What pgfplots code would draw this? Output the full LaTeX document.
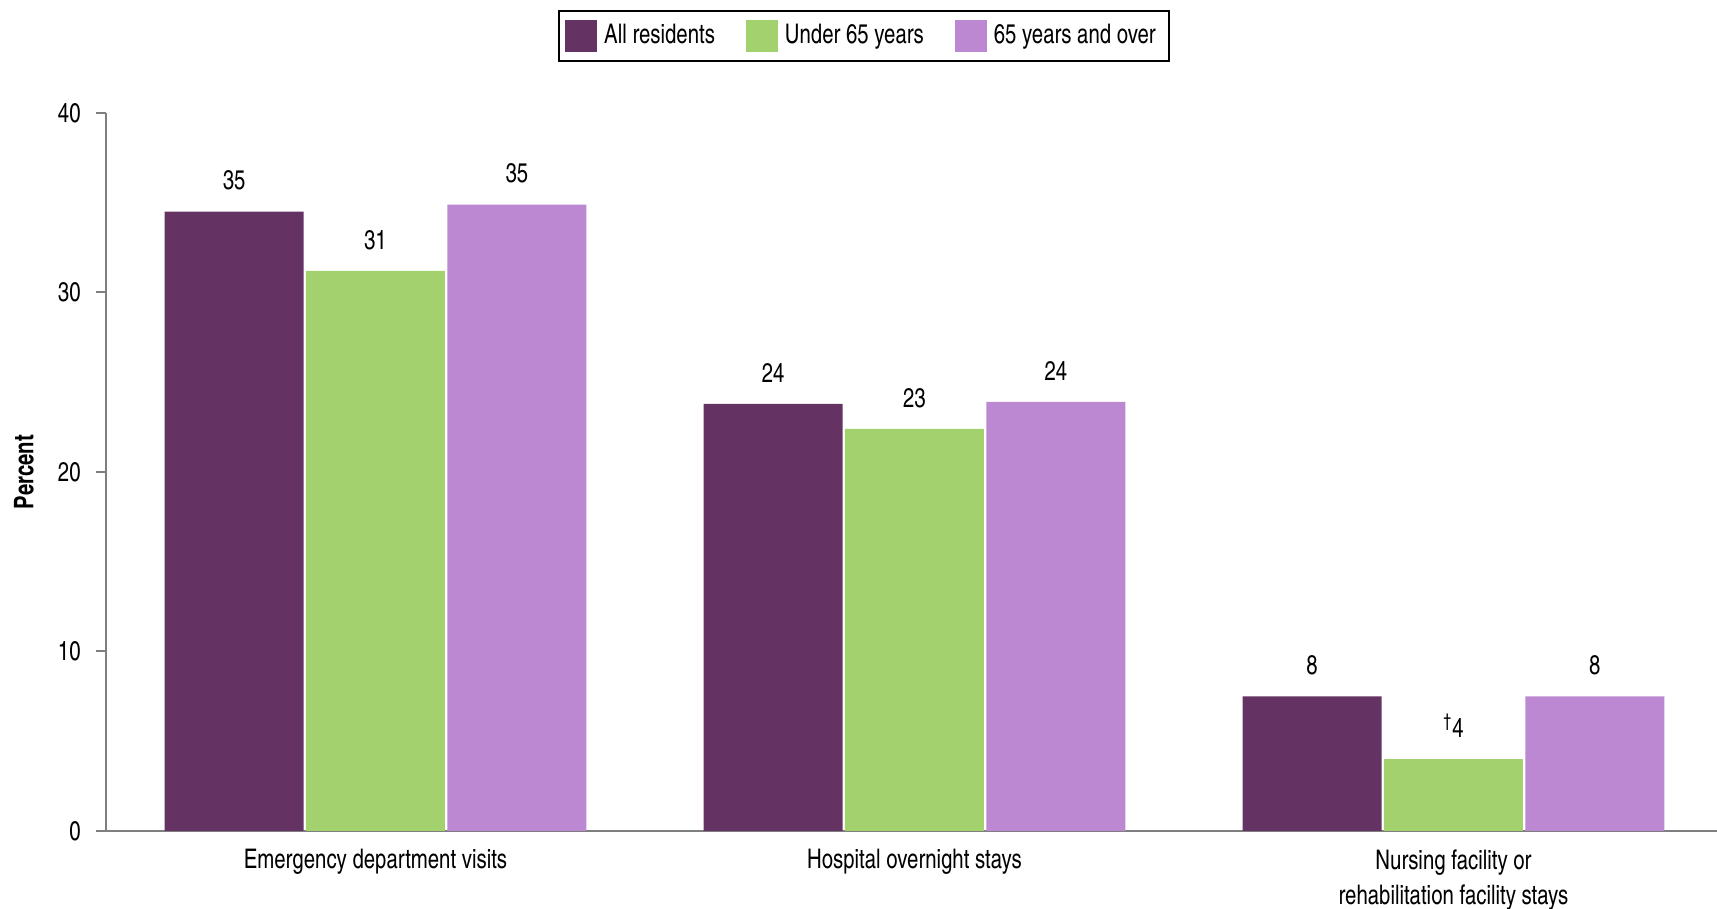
\documentclass[border=0pt]{standalone}
\usepackage{pgfplots}
\pgfplotsset{compat=1.18}
\usepackage{fontspec}
\setmainfont{texgyreheroscn-regular.otf}[BoldFont=texgyreheroscn-bold.otf, FakeStretch=0.92]
\definecolor{cAll}{HTML}{643263}
\definecolor{cUnder}{HTML}{A3D16E}
\definecolor{cOver}{HTML}{BC88D2}
\definecolor{axgray}{HTML}{7F7F7F}
\begin{document}
\begin{tikzpicture}
\fontsize{13.5}{17.5}\selectfont
\useasboundingbox (-53pt,-39pt) rectangle (805.5pt,415.5pt);
\begin{axis}[
  at={(0,0)}, anchor=south west,
  scale only axis, width=805.5pt, height=359pt,
  xmin=-0.5, xmax=2.489, ymin=0, ymax=40,
  axis x line=bottom, axis y line=left,
  axis line style={axgray, line width=1pt, -},
  xtick={0,1,2},
  xticklabels={Emergency department visits, Hospital overnight stays, {Nursing facility or\\rehabilitation facility stays}},
  xticklabel style={align=center, yshift=0.5pt, font=\fontsize{13.5}{17.5}\selectfont},
  x tick style={draw=none},
  ytick={0,10,20,30,40},
  y tick style={axgray, line width=1pt},
  tick align=outside, major tick length=5pt,
  yticklabel style={font=\fontsize{13.5}{16}\selectfont, xshift=-3pt},
  /pgf/number format/assume math mode=true,
  ylabel={\textbf{Percent}},
  ylabel style={at={(axis description cs:-0.0509,0.5)}, anchor=center, font=\fontsize{13.5}{16}\selectfont},
  ybar=1.2pt, bar width=69.5pt,
  nodes near coords,
  point meta=explicit symbolic,
  every node near coord/.append style={font=\fontsize{13.5}{16}\selectfont, text=black, yshift=6pt},
  legend columns=-1,
  legend style={at={(rel axis cs:0.4705,1.107)}, anchor=center, draw=black, line width=0.8pt,
    font=\fontsize{13.5}{16}\selectfont, inner xsep=3pt, inner ysep=4.5pt,
    nodes={inner xsep=3.5pt},
    /tikz/every even column/.append style={column sep=12pt}},
  legend image code/.code={\fill[#1] (0pt,-8pt) rectangle (16pt,8pt);},
]
\addplot[fill=cAll, draw=none] table[x=x, y=v, meta=m] {
x v m
0 34.5 35
1 23.8 24
2 7.5 8
};
\addplot[fill=cUnder, draw=none] table[x=x, y=v, meta=m] {
x v m
0 31.2 31
1 22.4 23
2 4.0 {\textsuperscript{†}4}
};
\addplot[fill=cOver, draw=none] table[x=x, y=v, meta=m] {
x v m
0 34.9 35
1 23.9 24
2 7.5 8
};
\legend{All residents, Under 65 years, 65 years and over}
\end{axis}
\end{tikzpicture}
\end{document}
